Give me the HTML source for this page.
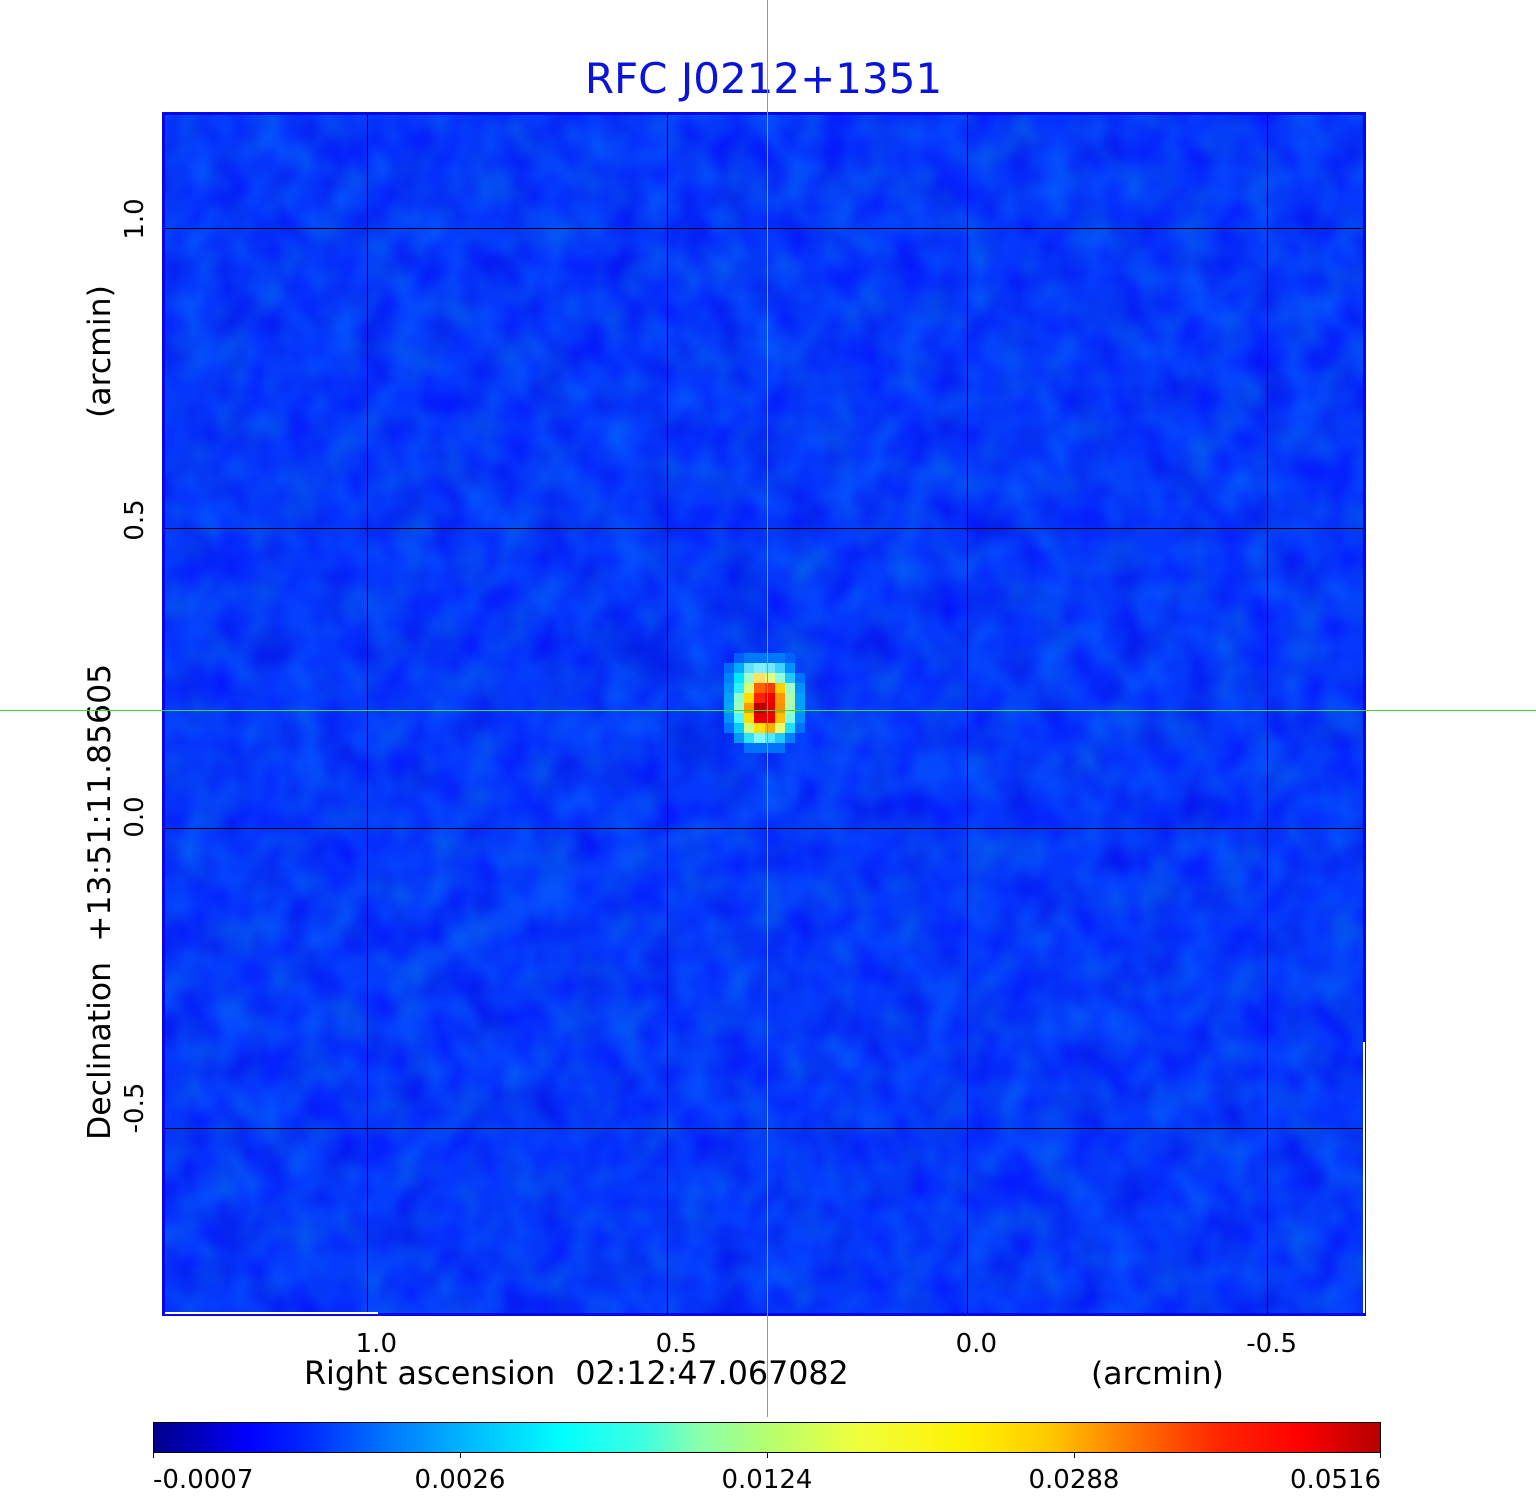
<!DOCTYPE html>
<html>
<head>
<meta charset="utf-8">
<style>
  html,body{margin:0;padding:0;background:#fff;}
  svg{display:block;}
  text{font-family:"DejaVu Sans","Liberation Sans",sans-serif;}
</style>
</head>
<body>
<svg width="1536" height="1511" viewBox="0 0 1536 1511" xmlns="http://www.w3.org/2000/svg">
  <defs>
    <filter id="nz" x="0" y="0" width="100%" height="100%" color-interpolation-filters="sRGB" filterUnits="objectBoundingBox">
      <feTurbulence type="fractalNoise" baseFrequency="0.028 0.024" numOctaves="2" seed="7"/>
      <feColorMatrix type="matrix" values="0 0 0 0 0.02  0.38 0 0 0 0.03  0 0.15 0 0 0.9  0 0 0 0 1"/>
    </filter>
    <filter id="bl" x="-50%" y="-50%" width="200%" height="200%">
      <feGaussianBlur stdDeviation="8"/>
    </filter>
    <linearGradient id="cb" x1="0" y1="0" x2="1" y2="0">
      <stop offset="0" stop-color="#00008c"/>
      <stop offset="0.044" stop-color="#0000c8"/>
      <stop offset="0.077" stop-color="#0000ff"/>
      <stop offset="0.125" stop-color="#0028ff"/>
      <stop offset="0.192" stop-color="#0078ff"/>
      <stop offset="0.251" stop-color="#00b4ff"/>
      <stop offset="0.334" stop-color="#00ffff"/>
      <stop offset="0.40" stop-color="#40ffe0"/>
      <stop offset="0.447" stop-color="#8cffaa"/>
      <stop offset="0.5" stop-color="#b4ff70"/>
      <stop offset="0.574" stop-color="#f0ff3c"/>
      <stop offset="0.665" stop-color="#fff000"/>
      <stop offset="0.73" stop-color="#ffc800"/>
      <stop offset="0.812" stop-color="#ff6400"/>
      <stop offset="0.866" stop-color="#ff2800"/>
      <stop offset="0.934" stop-color="#ff0000"/>
      <stop offset="1" stop-color="#b40000"/>
    </linearGradient>
  </defs>

  <!-- image background -->
  <rect x="163" y="113" width="1202" height="1202" fill="#0537f8"/>
  <rect x="163" y="113" width="1202" height="1202" filter="url(#nz)" opacity="0.85"/>

  <!-- subtle structure -->
  <g opacity="0.3" filter="url(#bl)">
    <ellipse cx="640" cy="655" rx="70" ry="18" transform="rotate(25 640 655)" fill="#0012d0"/>
    <ellipse cx="700" cy="742" rx="45" ry="18" transform="rotate(-10 700 742)" fill="#0012d0"/>
    <ellipse cx="745" cy="590" rx="12" ry="55" transform="rotate(-20 745 590)" fill="#0012d0"/>
    <line x1="400" y1="975" x2="600" y2="865" stroke="#1080ff" stroke-width="18"/>
    <line x1="600" y1="865" x2="790" y2="800" stroke="#1080ff" stroke-width="16"/>
    <line x1="790" y1="800" x2="800" y2="750" stroke="#1080ff" stroke-width="14"/>
  </g>

  <!-- source blob -->
  <g shape-rendering="crispEdges">
    <rect x="734" y="653" width="10" height="10" fill="#0060ff"/>
    <rect x="744" y="653" width="41" height="10" fill="#0078ff"/>
    <rect x="785" y="653" width="10" height="10" fill="#0060ff"/>
    <rect x="724" y="663" width="10" height="10" fill="#0068ff"/>
    <rect x="734" y="663" width="10" height="10" fill="#00aaff"/>
    <rect x="744" y="663" width="10" height="10" fill="#60e0ff"/>
    <rect x="754" y="663" width="11" height="10" fill="#80f0ff"/>
    <rect x="765" y="663" width="10" height="10" fill="#70e8ff"/>
    <rect x="775" y="663" width="10" height="10" fill="#40d0ff"/>
    <rect x="785" y="663" width="10" height="10" fill="#0090ff"/>
    <rect x="724" y="673" width="10" height="10" fill="#0080ff"/>
    <rect x="734" y="673" width="10" height="10" fill="#00e8ff"/>
    <rect x="744" y="673" width="10" height="10" fill="#a0ffc8"/>
    <rect x="754" y="673" width="11" height="10" fill="#ffe060"/>
    <rect x="765" y="673" width="10" height="10" fill="#e0ff80"/>
    <rect x="775" y="673" width="10" height="10" fill="#90ffe0"/>
    <rect x="785" y="673" width="10" height="10" fill="#20c8ff"/>
    <rect x="795" y="673" width="10" height="10" fill="#0070ff"/>
    <rect x="724" y="683" width="10" height="10" fill="#0090ff"/>
    <rect x="734" y="683" width="10" height="10" fill="#30f0ff"/>
    <rect x="744" y="683" width="10" height="10" fill="#d8ff70"/>
    <rect x="754" y="683" width="11" height="10" fill="#ff6000"/>
    <rect x="765" y="683" width="10" height="10" fill="#ff3800"/>
    <rect x="775" y="683" width="10" height="10" fill="#ffd000"/>
    <rect x="785" y="683" width="10" height="10" fill="#a0ffc8"/>
    <rect x="795" y="683" width="10" height="10" fill="#0090ff"/>
    <rect x="724" y="693" width="10" height="10" fill="#00a0ff"/>
    <rect x="734" y="693" width="10" height="10" fill="#90ffd0"/>
    <rect x="744" y="693" width="10" height="10" fill="#ffe000"/>
    <rect x="754" y="693" width="11" height="10" fill="#ff2000"/>
    <rect x="765" y="693" width="10" height="10" fill="#f00000"/>
    <rect x="775" y="693" width="10" height="10" fill="#ff9800"/>
    <rect x="785" y="693" width="10" height="10" fill="#b0ffb0"/>
    <rect x="795" y="693" width="10" height="10" fill="#00a0ff"/>
    <rect x="724" y="703" width="10" height="10" fill="#00a8ff"/>
    <rect x="734" y="703" width="10" height="10" fill="#a0ffc0"/>
    <rect x="744" y="703" width="10" height="10" fill="#ff9a00"/>
    <rect x="754" y="703" width="11" height="10" fill="#b80000"/>
    <rect x="765" y="703" width="10" height="10" fill="#e00000"/>
    <rect x="775" y="703" width="10" height="10" fill="#ff9000"/>
    <rect x="785" y="703" width="10" height="10" fill="#b0ffb0"/>
    <rect x="795" y="703" width="10" height="10" fill="#00a0ff"/>
    <rect x="724" y="713" width="10" height="10" fill="#0090ff"/>
    <rect x="734" y="713" width="10" height="10" fill="#50f8ff"/>
    <rect x="744" y="713" width="10" height="10" fill="#ffe000"/>
    <rect x="754" y="713" width="11" height="10" fill="#e80000"/>
    <rect x="765" y="713" width="10" height="10" fill="#f00000"/>
    <rect x="775" y="713" width="10" height="10" fill="#ffc000"/>
    <rect x="785" y="713" width="10" height="10" fill="#80ffe0"/>
    <rect x="795" y="713" width="10" height="10" fill="#0090ff"/>
    <rect x="724" y="723" width="10" height="10" fill="#0070ff"/>
    <rect x="734" y="723" width="10" height="10" fill="#00d0ff"/>
    <rect x="744" y="723" width="10" height="10" fill="#d0ff80"/>
    <rect x="754" y="723" width="11" height="10" fill="#ffe000"/>
    <rect x="765" y="723" width="10" height="10" fill="#ffb000"/>
    <rect x="775" y="723" width="10" height="10" fill="#e8ff70"/>
    <rect x="785" y="723" width="10" height="10" fill="#20e0ff"/>
    <rect x="795" y="723" width="10" height="10" fill="#0070ff"/>
    <rect x="734" y="733" width="10" height="10" fill="#0098ff"/>
    <rect x="744" y="733" width="10" height="10" fill="#30e0ff"/>
    <rect x="754" y="733" width="11" height="10" fill="#80f8ff"/>
    <rect x="765" y="733" width="10" height="10" fill="#50e8ff"/>
    <rect x="775" y="733" width="10" height="10" fill="#20c8ff"/>
    <rect x="785" y="733" width="10" height="10" fill="#0080ff"/>
    <rect x="744" y="743" width="41" height="10" fill="#0070ff"/>
  </g>

  <!-- grid -->
  <g fill="#000" shape-rendering="crispEdges">
    <rect x="367" y="113" width="1" height="1202"/>
    <rect x="667" y="113" width="1" height="1202"/>
    <rect x="967" y="113" width="1" height="1202"/>
    <rect x="1267" y="113" width="1" height="1202"/>
    <rect x="163" y="228" width="1202" height="1"/>
    <rect x="163" y="528" width="1202" height="1"/>
    <rect x="163" y="828" width="1202" height="1"/>
    <rect x="163" y="1128" width="1202" height="1"/>
  </g>

  <!-- border -->
  <rect x="163.5" y="113.5" width="1201" height="1201" fill="none" stroke="#0808e6" stroke-width="3"/>
  <!-- white artifacts -->
  <rect x="165" y="1312" width="213" height="2" fill="#fff"/>
  <rect x="1363" y="1042" width="2" height="271" fill="#fff"/>

  <!-- title -->
  <text x="763.5" y="93" font-size="42" fill="#0a14d8" text-anchor="middle">RFC J0212+1351</text>

  <!-- x tick labels -->
  <g font-size="26" fill="#000" text-anchor="end">
    <text x="397" y="1352">1.0</text>
    <text x="697" y="1352">0.5</text>
    <text x="997" y="1352">0.0</text>
    <text x="1297" y="1352">-0.5</text>
  </g>
  <text x="304" y="1384" font-size="31.7" fill="#000" style="white-space:pre" xml:space="preserve">Right ascension  02:12:47.067082</text>
  <text x="1091" y="1384" font-size="31.5" fill="#000">(arcmin)</text>

  <!-- y tick labels -->
  <g font-size="26" fill="#000" text-anchor="middle">
    <text transform="translate(143,219) rotate(-90)">1.0</text>
    <text transform="translate(143,520) rotate(-90)">0.5</text>
    <text transform="translate(143,817) rotate(-90)">0.0</text>
    <text transform="translate(143,1108) rotate(-90)">-0.5</text>
  </g>
  <text transform="translate(110,1140) rotate(-90)" font-size="31.5" fill="#000" style="white-space:pre" xml:space="preserve">Declination  +13:51:11.85605</text>
  <text transform="translate(110,418) rotate(-90)" font-size="31.5" fill="#000">(arcmin)</text>

  <!-- colorbar -->
  <rect x="153.5" y="1422.5" width="1227" height="30" fill="url(#cb)" stroke="#000" stroke-width="1"/>
  <g fill="#000">
    <rect x="153" y="1453" width="1" height="5"/>
    <rect x="460" y="1453" width="1" height="5"/>
    <rect x="767" y="1453" width="1" height="5"/>
    <rect x="1074" y="1453" width="1" height="5"/>
    <rect x="1380" y="1453" width="1" height="5"/>
  </g>
  <g font-size="26" fill="#000">
    <text x="153" y="1488">-0.0007</text>
    <text x="460" y="1488" text-anchor="middle">0.0026</text>
    <text x="767" y="1488" text-anchor="middle">0.0124</text>
    <text x="1074" y="1488" text-anchor="middle">0.0288</text>
    <text x="1381" y="1488" text-anchor="end">0.0516</text>
  </g>

  <!-- green crosshair -->
  <g fill="#30e030" shape-rendering="crispEdges">
    <rect x="767" y="0" width="1" height="1417"/>
    <rect x="0" y="710" width="1536" height="1"/>
  </g>
</svg>
</body>
</html>
